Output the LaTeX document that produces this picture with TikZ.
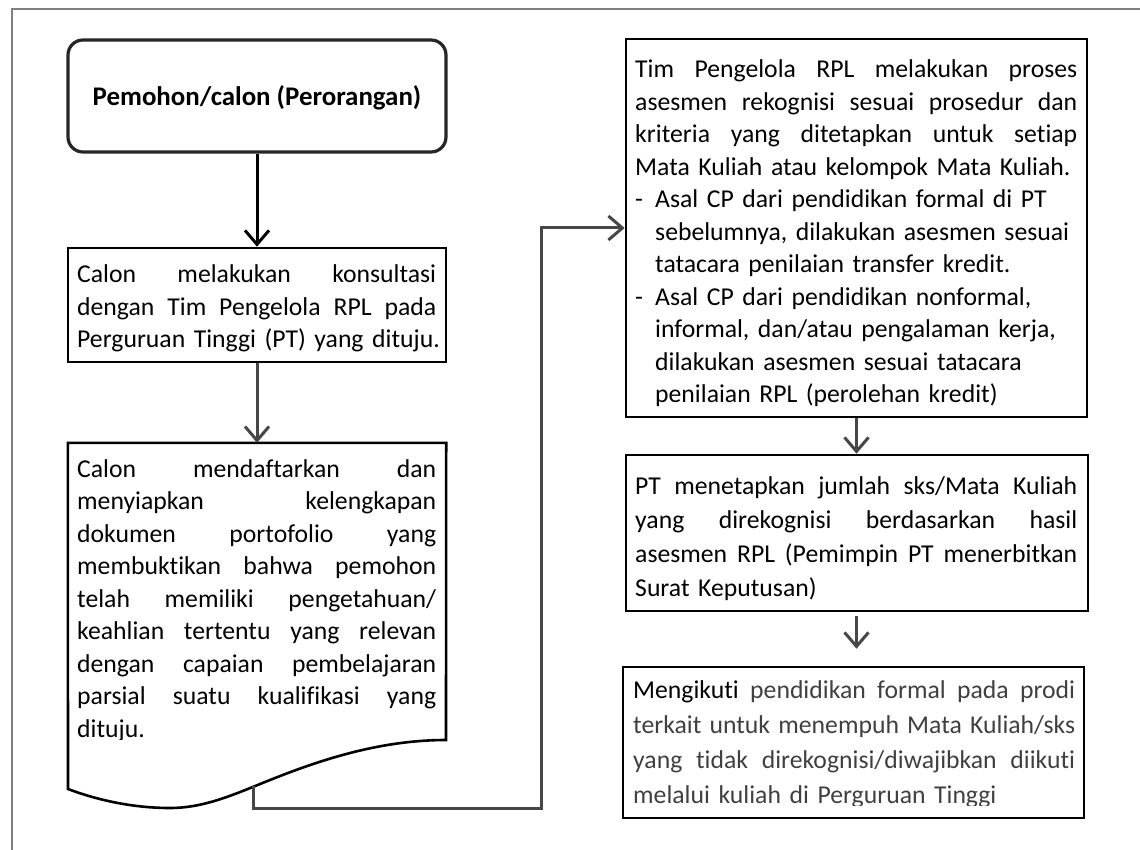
\documentclass[tikz,border=0pt]{standalone}
\usepackage{fontspec}
\setmainfont{Carlito}[Ligatures=NoCommon]
\usetikzlibrary{arrows.meta}
\newlength{\jw}
\newcommand{\jline}[1]{\leavevmode\hbox to \jw{\spaceskip=\fontdimen2\font plus 1fill minus \fontdimen4\font #1}\\}
\newcommand{\nline}[1]{\mbox{#1}}
\newcommand{\indt}{\hspace*{20pt}}
\newcommand{\dashitem}{\makebox[20pt][l]{-}}
\begin{document}
\begin{tikzpicture}[x=1pt,y=-1pt,
  frame/.style={draw=black!50, line width=2pt},
  startbox/.style={draw=black!85, line width=3.2pt, rounded corners=15pt, inner sep=0pt},
  procbox/.style={draw=black, line width=2.6pt, inner sep=0pt},
  hidden/.style={inner sep=0pt},
  txt/.style={anchor=base west, inner sep=0pt, align=left, font=\fontsize{25.7}{32.5}\selectfont},
  barb/.style={-{Straight Barb[length=14pt,width=24pt,line width=3pt]}},
  arrblack/.style={draw=black, line width=3pt, barb},
  arrgray/.style={draw=black!72, line width=3pt, barb}
]
\useasboundingbox (0,0) rectangle (1140,850);
\fill[white] (0,0) rectangle (1140,850);
% outer frame (cropped)
\draw[frame] (12,850) -- (12,9) -- (1140,9);

% left column
\node[startbox, minimum width=378pt, minimum height=112pt] (b1) at (257,96) {};
\node[anchor=base, inner sep=0pt, font=\fontsize{26.9}{32.5}\selectfont\bfseries] (t1) at (257,106) {Pemohon/calon (Perorangan)};

\node[procbox, minimum width=378pt, minimum height=114pt] (b2) at (257,305) {};
\setlength{\jw}{359pt}
\node[txt, text width=359pt] (t2) at (77,283) {%
\jline{Calon melakukan konsultasi}%
\jline{dengan Tim Pengelola RPL pada}%
\nline{Perguruan Tinggi (PT) yang dituju.}};

% document shape
\node[hidden, minimum width=378pt, minimum height=346pt] (b3) at (257,616) {};
\draw[black, line width=2.6pt, line join=miter]
  (b3.north west) -- (b3.north east) -- (446,740)
  .. controls (380,740) and (320,760) .. (270,780)
  .. controls (235,794) and (205,808) .. (170,808)
  .. controls (135,808) and (100,801) .. (68,789) -- cycle;
\coordinate (c3) at (253,786);
\begin{scope}
\clip (60,440) rectangle (460,739);
\node[txt, text width=359pt] (t3) at (77,477) {%
\jline{Calon mendaftarkan dan}%
\jline{menyiapkan kelengkapan}%
\jline{dokumen portofolio yang}%
\jline{membuktikan bahwa pemohon}%
\jline{telah memiliki pengetahuan/}%
\jline{keahlian tertentu yang relevan}%
\jline{dengan capaian pembelajaran}%
\jline{parsial suatu kualifikasi yang}%
\nline{dituju.}};
\end{scope}

% right column
\setlength{\jw}{442pt}
\node[procbox, minimum width=461pt, minimum height=378pt] (b4) at (856.5,228) {};
\node[txt, text width=442pt] (t4) at (635,78) {%
\jline{Tim Pengelola RPL melakukan proses}%
\jline{asesmen rekognisi sesuai prosedur dan}%
\jline{kriteria yang ditetapkan untuk setiap}%
\nline{Mata Kuliah atau kelompok Mata Kuliah.}\\
\nline{\dashitem Asal CP dari pendidikan formal di PT}\\
\nline{\indt sebelumnya, dilakukan asesmen sesuai}\\
\nline{\indt tatacara penilaian transfer kredit.}\\
\nline{\dashitem Asal CP dari pendidikan nonformal,}\\
\nline{\indt informal, dan/atau pengalaman kerja,}\\
\nline{\indt dilakukan asesmen sesuai tatacara}\\
\nline{\indt penilaian RPL (perolehan kredit)}};

\node[procbox, minimum width=462pt, minimum height=156pt] (b5) at (857,533) {};
\node[txt, text width=442pt, font=\fontsize{25.7}{34}\selectfont] (t5) at (635,494) {%
\jline{PT menetapkan jumlah sks/Mata Kuliah}%
\jline{yang direkognisi berdasarkan hasil}%
\jline{asesmen RPL (Pemimpin PT menerbitkan}%
\nline{Surat Keputusan)}};

\node[procbox, minimum width=461pt, minimum height=151pt] (b6) at (853.5,742.5) {};
\begin{scope}
\clip (615,660) rectangle (1095,805);
\node[txt, text width=442pt, font=\fontsize{25.7}{35}\selectfont, text=black!75] (t6) at (633,698) {%
\jline{\textcolor{black}{Mengikuti} pendidikan formal pada prodi}%
\jline{terkait untuk menempuh Mata Kuliah/sks}%
\jline{yang tidak direkognisi/diwajibkan diikuti}%
\nline{melalui kuliah di Perguruan Tinggi}};
\end{scope}

% connectors
\draw[arrblack] (b1.south) -- (b2.north);
\draw[arrgray] (b2.south) -- (b3.north);
\coordinate (k1) at (541,808);
\draw[arrgray] (c3) |- (k1) |- (b4.west);
\draw[arrgray] (b4.south) -- (b4.south |- b5.north);
\draw[arrgray, shorten >=17pt] ([yshift=-4pt]b4.south |- b5.south) -- (b4.south |- b6.north);
\end{tikzpicture}
\end{document}
